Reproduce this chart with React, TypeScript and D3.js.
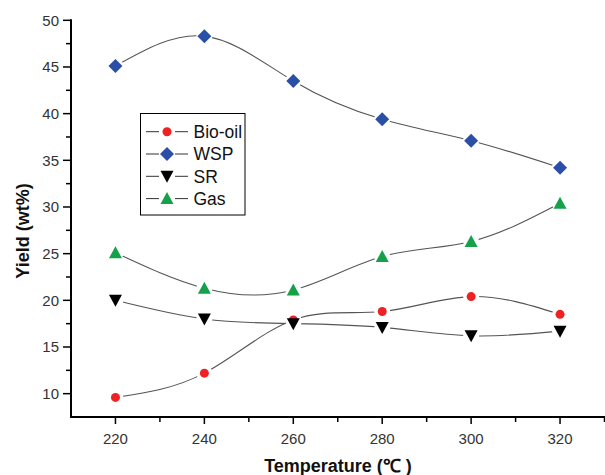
import React, { useRef, useEffect } from 'react';
import * as d3 from 'd3';

const temperatures = [220, 240, 260, 280, 300, 320];
const bioOil = [9.6, 12.2, 17.9, 18.8, 20.4, 18.5];
const wsp = [45.1, 48.3, 43.5, 39.4, 37.1, 34.2];
const sr = [20.0, 18.0, 17.5, 17.1, 16.2, 16.7];
const gas = [25.1, 21.3, 21.1, 24.7, 26.3, 30.4];

const xTicks = [220, 240, 260, 280, 300, 320];
const yTicks = [10, 15, 20, 25, 30, 35, 40, 45, 50];

const seriesNames = ['Bio-oil', 'WSP', 'SR', 'Gas'];
const seriesValues = [bioOil, wsp, sr, gas];
const seriesColors = ['#ee2222', '#2b4ea6', '#000000', '#15a04a'];
const seriesShapes = ['circle', 'diamond', 'triDown', 'triUp'];

const App: React.FC = () => {
	const svgRef = useRef<SVGSVGElement | null>(null);

	useEffect(() => {
		if (!svgRef.current) return;
		const width = 605;
		const height = 475;

		const x = d3.scaleLinear().domain([210, 330]).range([71, 604.5]);
		const y = d3.scaleLinear().domain([7.5, 50]).range([417, 20.3]);

		const svg = d3.select(svgRef.current)
			.attr('width', width)
			.attr('height', height);
		svg.selectAll('*').remove();

		svg.append('rect').attr('width', width).attr('height', height).attr('fill', '#fff');

		// marker path generator
		const markerPath = (shape: string, cx: number, cy: number) => {
			if (shape === 'diamond') {
				const r = 7;
				return `M${cx},${cy - r}L${cx + r},${cy}L${cx},${cy + r}L${cx - r},${cy}Z`;
			}
			if (shape === 'triDown') {
				const w = 6.5;
				return `M${cx - w},${cy - 5.5}L${cx + w},${cy - 5.5}L${cx},${cy + 6.5}Z`;
			}
			if (shape === 'triUp') {
				const w = 6.5;
				return `M${cx - w},${cy + 5.5}L${cx + w},${cy + 5.5}L${cx},${cy - 6.5}Z`;
			}
			return d3.arc()({ innerRadius: 0, outerRadius: 4.5, startAngle: 0, endAngle: 2 * Math.PI }) as string;
		};

		const defs = svg.append('defs');
		const line = d3.line<number>()
			.x((_, i) => x(temperatures[i]))
			.y(d => y(d))
			.curve(d3.curveNatural);

		// series lines, each masked around its own markers
		seriesValues.forEach((vals, si) => {
			const mask = defs.append('mask').attr('id', `m${si}`).attr('maskUnits', 'userSpaceOnUse')
				.attr('x', 0).attr('y', 0).attr('width', width).attr('height', height);
			mask.append('rect').attr('width', width).attr('height', height).attr('fill', '#fff');
			mask.selectAll('circle').data(vals).join('circle')
				.attr('cx', (_, i) => x(temperatures[i]))
				.attr('cy', d => y(d))
				.attr('r', 8)
				.attr('fill', '#000');
			svg.append('path')
				.attr('d', line(vals))
				.attr('fill', 'none')
				.attr('stroke', '#555')
				.attr('stroke-width', 1.1)
				.attr('mask', `url(#m${si})`);
		});

		// markers
		seriesValues.forEach((vals, si) => {
			svg.append('g').selectAll('path').data(vals).join('path')
				.attr('d', (d, i) => seriesShapes[si] === 'circle'
					? markerPath('circle', 0, 0)
					: markerPath(seriesShapes[si], x(temperatures[i]), y(d)))
				.attr('transform', (d, i) => seriesShapes[si] === 'circle'
					? `translate(${x(temperatures[i])},${y(d)})` : null)
				.attr('fill', seriesColors[si]);
		});

		// axes
		const axisFont = 'Arial, "Liberation Sans", sans-serif';
		const xAxis = svg.append('g').attr('transform', `translate(0,${y(7.5)})`);
		xAxis.append('line').attr('x1', 70).attr('x2', 605).attr('stroke', '#000').attr('stroke-width', 2);
		d3.range(210, 331, 10).forEach(t => {
			const major = xTicks.includes(t);
			if (t === 210) return;
			xAxis.append('line')
				.attr('x1', x(t)).attr('x2', x(t))
				.attr('y1', 0).attr('y2', major ? 7 : 5)
				.attr('stroke', '#000').attr('stroke-width', 1.5);
		});
		xAxis.selectAll('text').data(xTicks).join('text')
			.attr('x', d => x(d))
			.attr('y', 26.5)
			.attr('text-anchor', 'middle')
			.attr('font-family', axisFont)
			.attr('font-size', 15)
			.attr('fill', '#333')
			.text(d => d);

		const yAxis = svg.append('g').attr('transform', `translate(71,0)`);
		yAxis.append('line').attr('y1', y(50) - 1).attr('y2', y(7.5) + 1).attr('stroke', '#000').attr('stroke-width', 2);
		d3.range(10, 50.1, 2.5).forEach(t => {
			const major = t % 5 === 0;
			yAxis.append('line')
				.attr('x1', 0).attr('x2', major ? -8 : -5)
				.attr('y1', y(t)).attr('y2', y(t))
				.attr('stroke', '#000').attr('stroke-width', 1.5);
		});
		yAxis.selectAll('text').data(yTicks).join('text')
			.attr('x', -12)
			.attr('y', d => y(d))
			.attr('dy', '0.35em')
			.attr('text-anchor', 'end')
			.attr('font-family', axisFont)
			.attr('font-size', 15)
			.attr('fill', '#333')
			.text(d => d);

		// axis titles
		svg.append('text')
			.attr('x', 338)
			.attr('y', 471.5)
			.attr('text-anchor', 'middle')
			.attr('font-family', axisFont)
			.attr('font-weight', 'bold')
			.attr('font-size', 18)
			.attr('fill', '#111')
			.text('Temperature (\u2103 )');
		svg.append('text')
			.attr('transform', 'translate(28.5,231) rotate(-90)')
			.attr('text-anchor', 'middle')
			.attr('font-family', axisFont)
			.attr('font-weight', 'bold')
			.attr('font-size', 18)
			.attr('fill', '#111')
			.text('Yield (wt%)');

		// legend
		const legend = svg.append('g');
		legend.append('rect')
			.attr('x', 140.5).attr('y', 113.5).attr('width', 104.5).attr('height', 101.5)
			.attr('fill', '#fff').attr('stroke', '#000').attr('stroke-width', 1);
		seriesNames.forEach((name, i) => {
			const ly = 131.7 + i * 22.3;
			legend.append('line').attr('x1', 146).attr('x2', 188).attr('y1', ly).attr('y2', ly)
				.attr('stroke', '#333').attr('stroke-width', 1);
			legend.append('rect').attr('x', 159).attr('y', ly - 4).attr('width', 16).attr('height', 8).attr('fill', '#fff');
			legend.append('path')
				.attr('d', seriesShapes[i] === 'circle' ? markerPath('circle', 0, 0) : markerPath(seriesShapes[i], 167, ly))
				.attr('transform', seriesShapes[i] === 'circle' ? `translate(167,${ly})` : null)
				.attr('fill', seriesColors[i]);
			legend.append('text')
				.attr('x', 193.5).attr('y', ly).attr('dy', '0.36em')
				.attr('font-family', axisFont).attr('font-size', 17.5)
				.attr('fill', '#111')
				.text(name);
		});
	}, []);

	return (
		<svg ref={svgRef} style={{ position: 'absolute', left: 0, top: 0 }} />
	);
};

export default App;
